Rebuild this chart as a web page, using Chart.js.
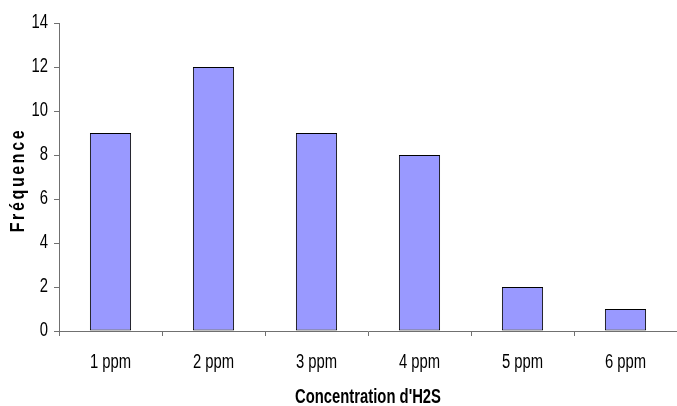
<!DOCTYPE html>
<html>
<head>
<meta charset="utf-8">
<script src="https://cdn.jsdelivr.net/npm/chart.js@4/dist/chart.umd.min.js"></script>
<style>
  html, body { margin: 0; padding: 0; background: #ffffff; }
  #wrap { width: 677px; height: 406px; }
</style>
</head>
<body>
<div id="wrap"><canvas id="chart" width="677" height="406"></canvas></div>
<script>
// Concentration levels (x categories) and how often each was observed
const categories = ['1 ppm', '2 ppm', '3 ppm', '4 ppm', '5 ppm', '6 ppm'];
const frequencies = [9, 12, 9, 8, 2, 1];
const yTickValues = [0, 2, 4, 6, 8, 10, 12, 14];
const xTitle = "Concentration d'H2S";
const yTitle = 'Fréquence';

const FONT = '"Liberation Sans", Arial, sans-serif';
const AXIS_GREY = '#707070';
const TEXT_SQUEEZE = 0.76;   // horizontal condensing of all text

// Draw every label horizontally condensed, anchored at its own position
const condensedText = {
  id: 'condensedText',
  beforeDraw(chart) {
    const ctx = chart.ctx;
    if (ctx.__condensed) return;
    const orig = ctx.fillText.bind(ctx);
    ctx.fillText = function (text, x, y, maxWidth) {
      this.save();
      this.translate(x, y);
      this.scale(TEXT_SQUEEZE, 1);
      if (maxWidth !== undefined) orig(text, 0, 0, maxWidth / TEXT_SQUEEZE);
      else orig(text, 0, 0);
      this.restore();
    };
    ctx.__condensed = true;
  }
};

// Vertical axis title, drawn with wide letter spacing
const yTitlePlugin = {
  id: 'yTitle',
  afterDraw(chart) {
    const ctx = chart.ctx;
    ctx.save();
    ctx.translate(24, 180);
    ctx.rotate(-Math.PI / 2);
    ctx.font = 'bold 21px ' + FONT;
    ctx.fillStyle = '#000000';
    ctx.textAlign = 'center';
    ctx.textBaseline = 'alphabetic';
    if ('letterSpacing' in ctx) ctx.letterSpacing = '3.5px';
    ctx.fillText(yTitle, 0, 0);
    ctx.restore();
  }
};

new Chart(document.getElementById('chart'), {
  type: 'bar',
  data: {
    labels: categories,
    datasets: [{
      data: frequencies,
      backgroundColor: '#9999ff',
      borderColor: '#000000',
      borderWidth: 1,
      borderSkipped: false,
      barPercentage: 0.4,
      categoryPercentage: 1.0
    }]
  },
  options: {
    responsive: false,
    animation: false,
    devicePixelRatio: 1,
    layout: { padding: { top: 23, right: 0, bottom: 0, left: 0 } },
    plugins: {
      legend: { display: false },
      tooltip: { enabled: false }
    },
    scales: {
      x: {
        offset: true,
        grid: {
          display: true,
          offset: true,
          drawOnChartArea: false,
          drawTicks: true,
          tickLength: 5,
          color: AXIS_GREY,
          lineWidth: 1
        },
        border: { display: true, color: AXIS_GREY, width: 1 },
        ticks: {
          color: '#000000',
          font: { family: FONT, size: 19.5 },
          padding: 15,
          maxRotation: 0
        },
        title: {
          display: true,
          text: xTitle,
          color: '#000000',
          font: { family: FONT, size: 19.5, weight: 'bold', lineHeight: 0.85 },
          padding: { top: 0, bottom: 0 }
        },
        afterFit(scale) { scale.height = 75; }
      },
      y: {
        min: 0,
        max: 14,
        afterBuildTicks(scale) {
          scale.ticks = yTickValues.map(v => ({ value: v }));
        },
        grid: {
          display: true,
          drawOnChartArea: false,
          drawTicks: true,
          tickLength: 5,
          color: AXIS_GREY,
          lineWidth: 1
        },
        border: { display: true, color: AXIS_GREY, width: 1 },
        ticks: {
          color: '#000000',
          font: { family: FONT, size: 19.5 },
          padding: 6
        },
        title: { display: false },
        afterFit(scale) { scale.width = 59; }
      }
    }
  },
  plugins: [condensedText, yTitlePlugin]
});
</script>
</body>
</html>
